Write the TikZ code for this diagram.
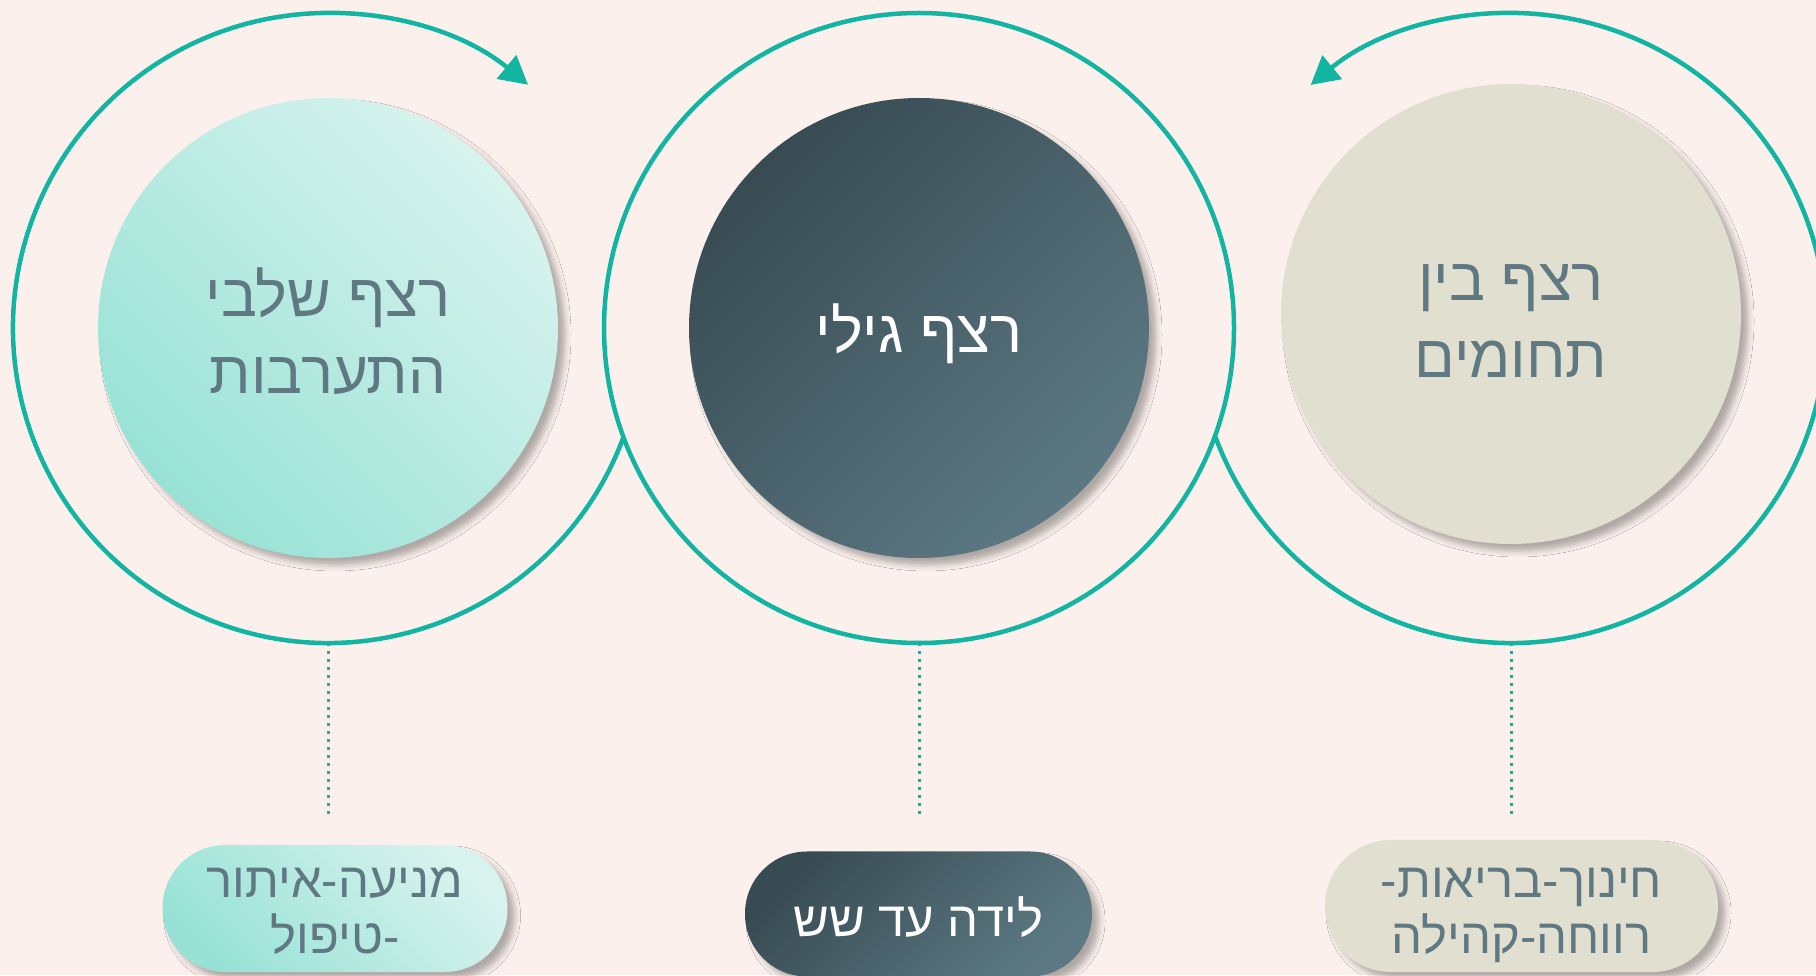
\documentclass[tikz,border=0pt]{standalone}
\usepackage{fontspec}
\newfontfamily\heb[Script=Hebrew]{Liberation Sans}
\TeXXeTstate=1
\usetikzlibrary{arrows.meta,shadows.blur,calc}
\definecolor{bg}{RGB}{251,240,236}
\definecolor{ringc}{RGB}{18,180,162}
\definecolor{mintL}{RGB}{216,243,238}
\definecolor{mintD}{RGB}{152,226,213}
\definecolor{slateD}{RGB}{56,75,83}
\definecolor{slateL}{RGB}{92,121,131}
\definecolor{sand}{RGB}{225,224,208}
\definecolor{txt}{RGB}{95,120,130}
\tikzset{
  ring/.style={draw=ringc, line width=4.5pt},
  softshadow/.style={blur shadow={shadow xshift=7pt, shadow yshift=-7pt, shadow blur radius=6pt, shadow opacity=30}},
  inner/.style={circle, minimum size=460pt, inner sep=0pt, softshadow},
  bigtxt/.style={font=\heb\fontsize{60}{77}\selectfont, align=center},
  pill/.style={rectangle, inner sep=0pt, softshadow},
  piltxt/.style={font=\heb\fontsize{49}{56}\selectfont, align=center},
  dots/.style={draw=ringc, line width=3pt, dash pattern=on 3pt off 5pt},
  mint/.style={top color=mintL, bottom color=mintD, shading angle=-45},
  slate/.style={top color=slateD, bottom color=slateL, shading angle=45},
}
\begin{document}
\begin{tikzpicture}[x=1pt,y=1pt]
\useasboundingbox (0,0) rectangle (1816,975);
\clip (0,0) rectangle (1816,975);
\fill[bg] (0,0) rectangle (1816,975);

\coordinate (L) at (328,647);
\coordinate (M) at (919,647);
\coordinate (R) at (1511,647);

% rings
\draw[ring, -{Triangle[length=28pt,width=30pt]}] ($(L)+(-20.27:315)$) arc[start angle=-20.27, end angle=-309.43, radius=315];
\draw[ring] (M) circle[radius=315];
\draw[ring, -{Triangle[length=28pt,width=30pt]}] ($(R)+(200.27:315)$) arc[start angle=200.27, end angle=489.5, radius=315];

% dotted leaders
\coordinate (Lb) at ($(L)+(0,-315)$);
\coordinate (Mb) at ($(M)+(0,-315)$);
\coordinate (Rb) at ($(R)+(0,-315)$);
\coordinate (Le) at (328,161);
\coordinate (Me) at (919,161);
\coordinate (Re) at (1511,161);
\draw[dots] (Lb) -- (Le);
\draw[dots] (Mb) -- (Me);
\draw[dots] (Rb) -- (Re);

% inner circles
\node[inner, mint] (lc) at (L) {};
\node[inner, slate] (mc) at (M) {};
\node[inner, fill=sand] (rc) at (1511,661) {};
\node[bigtxt, text=txt] (lt) at ($(lc.center)+(0,-3)$) {\beginR רצף שלבי\endR\\\beginR התערבות\endR};
\node[bigtxt, text=white] (mt) at ($(mc.center)+(0,-6)$) {\beginR רצף גילי\endR};
\node[bigtxt, text=txt] (rt) at ($(rc.center)+(0,-7)$) {\beginR רצף בין\endR\\\beginR תחומים\endR};

% pills
\node[pill, mint, rounded corners=63pt, minimum width=345pt, minimum height=127pt] (lp) at (335,66.5) {};
\node[pill, slate, rounded corners=62pt, minimum width=347pt, minimum height=125pt] (mp) at (918.5,61) {};
\node[pill, fill=sand, rounded corners=66pt, minimum width=393pt, minimum height=132pt] (rp) at (1521.5,69) {};
\node[piltxt, text=txt] (lpt) at ($(lp.center)+(0,-3)$) {\beginR מניעה-איתור\endR\\\beginR טיפול\endR-};
\node[piltxt, text=white] (mpt) at ($(mp.center)+(0,-3)$) {\beginR לידה עד שש\endR};
\node[piltxt, text=txt] (rpt) at ($(rp.center)+(0,-9)$) {-\beginR חינוך-בריאות\endR\\\beginR רווחה-קהילה\endR};
\end{tikzpicture}
\end{document}
